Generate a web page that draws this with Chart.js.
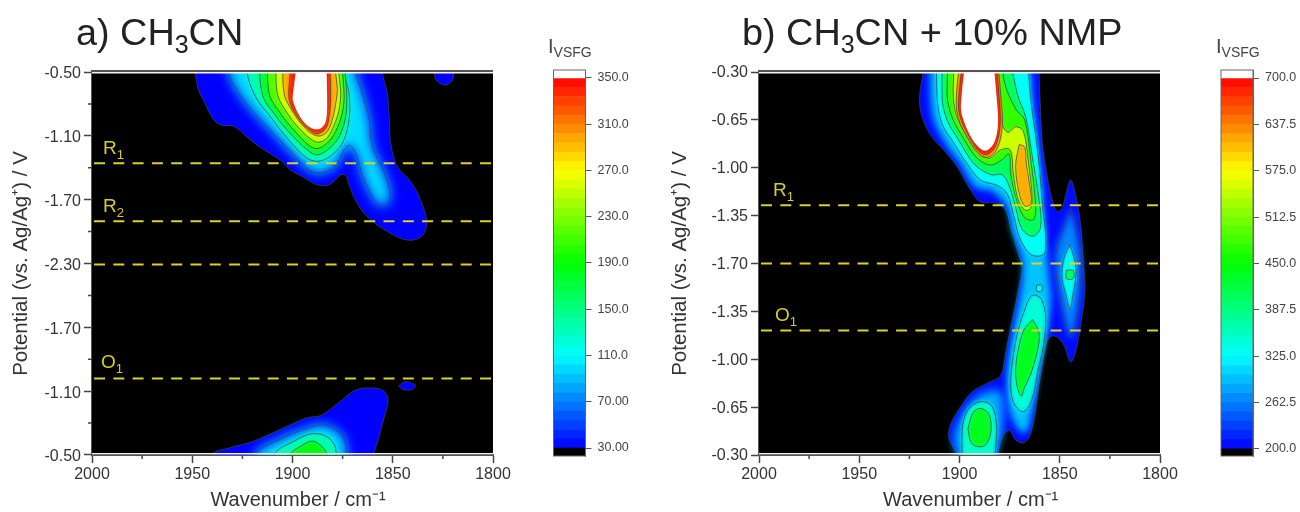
<!DOCTYPE html>
<html>
<head>
<meta charset="utf-8">
<script src="https://cdn.jsdelivr.net/npm/chart.js@4"></script>
<style>
  html, body { margin: 0; padding: 0; background: #fff; }
  body { position: relative; width: 1300px; height: 512px; overflow: hidden; font-family: "Liberation Sans", Arial, sans-serif; }
  canvas { position: absolute; top: 0; }
  .title { position: absolute; top: 10px; font-size: 37.8px; color: #222; white-space: nowrap; line-height: 44px; }
  .title sub { font-size: 25px; line-height: 0; vertical-align: -8px; }
  .tag { position: absolute; font-size: 19px; color: #d4cc2c; line-height: 22px; }
  .tag sub { font-size: 13px; line-height: 0; vertical-align: -5px; }
  .cbname { position: absolute; top: 34px; font-size: 20px; color: #444; line-height: 24px; }
  .cbname sub { font-size: 14px; line-height: 0; vertical-align: -4px; }
</style>
</head>
<body>
<canvas id="panelA" width="530" height="512" style="left:0"></canvas>
<canvas id="barA" width="110" height="512" style="left:530px"></canvas>
<canvas id="panelB" width="530" height="512" style="left:667px"></canvas>
<canvas id="barB" width="110" height="512" style="left:1198px"></canvas>

<div class="title" style="left:76px">a) CH<sub>3</sub>CN</div>
<div class="title" style="left:742px">b) CH<sub>3</sub>CN + 10% NMP</div>
<div class="cbname" style="left:548px">I<sub>VSFG</sub></div>
<div class="cbname" style="left:1216px">I<sub>VSFG</sub></div>
<div class="tag" style="left:103px;top:137px">R<sub>1</sub></div>
<div class="tag" style="left:103px;top:195px">R<sub>2</sub></div>
<div class="tag" style="left:101px;top:351px">O<sub>1</sub></div>
<div class="tag" style="left:773px;top:179px">R<sub>1</sub></div>
<div class="tag" style="left:775px;top:304px">O<sub>1</sub></div>

<script>
// x = wavenumber, y = distance along the potential scan (V from the start of the sweep)
const wnTicks = [2000, 1950, 1900, 1850, 1800];
const wnMinor = [1975, 1925, 1875, 1825];

const potLabelsA = ['-0.50', '-1.10', '-1.70', '-2.30', '-1.70', '-1.10', '-0.50'];
const potMinorA = [0.3, 0.9, 1.5, 2.1, 2.7, 3.3];
const potLabelsB = ['-0.30', '-0.65', '-1.00', '-1.35', '-1.70', '-1.35', '-1.00', '-0.65', '-0.30'];

const markersA = [0.857, 1.404, 1.809, 2.88];
const markersB = [0.975, 1.40, 1.89];

const cbTicksA = [350, 310, 270, 230, 190, 150, 110, 70, 30];
const cbLabelsA = ['350.0', '310.0', '270.0', '230.0', '190.0', '150.0', '110.0', '70.00', '30.00'];
const cbTicksB = [700, 637.5, 575, 512.5, 450, 387.5, 325, 262.5, 200];
const cbLabelsB = ['700.0', '637.5', '575.0', '512.5', '450.0', '387.5', '325.0', '262.5', '200.0'];
const cbStepsA = [30, 38, 46, 54, 62, 70, 78, 86, 94, 102, 110, 118, 126, 134, 142, 150, 158, 166, 174, 182, 190, 198, 206, 214, 222, 230, 238, 246, 254, 262, 270, 278, 286, 294, 302, 310, 318, 326, 334, 342, 350];
const cbStepsB = [200, 212.5, 225, 237.5, 250, 262.5, 275, 287.5, 300, 312.5, 325, 337.5, 350, 362.5, 375, 387.5, 400, 412.5, 425, 437.5, 450, 462.5, 475, 487.5, 500, 512.5, 525, 537.5, 550, 562.5, 575, 587.5, 600, 612.5, 625, 637.5, 650, 662.5, 675, 687.5, 700];

// ----- panel a, contours -----
const aTopEdge = [[1948.5,-.3],[1948.5,0],[1946.8,.17],[1943.5,.30],[1939.3,.45],[1935.2,.50],[1929.3,.51],[1922.7,.61],[1916,.71],[1906,.83],[1901,.92],[1894.3,.99],[1887.7,1.06],[1881.8,1.06],[1876,.97],[1873.5,.97],[1871.8,1.06],[1868.5,1.21],[1862.7,1.36],[1852.7,1.50],[1842.7,1.58],[1836,1.55],[1833,1.43],[1836,1.21],[1841,1.03],[1847.7,.89],[1851,.67],[1851.8,.42],[1852.7,.20],[1855.2,0],[1855.2,-.3]];
const aTop90 = [[1931.8,-.3],[1931.8,0],[1927.7,.17],[1920.2,.36],[1909.3,.58],[1899.3,.78],[1891.8,.92],[1886,.95],[1878.5,.88],[1874.3,.73],[1871.3,.69],[1867.7,.80],[1865.2,.97],[1858.5,1.22],[1854.3,1.26],[1851.3,1.17],[1854.3,.95],[1860.2,.70],[1861.8,.45],[1865.2,.20],[1868.5,0],[1868.5,-.3]];
const aTop130 = [[1922.7,-.3],[1922.7,0],[1918.5,.23],[1911,.42],[1902.7,.62],[1893.5,.80],[1887.7,.84],[1881.8,.80],[1875.2,.67],[1871.8,.45],[1871.8,.20],[1874.3,0],[1874.3,-.3]];
const aTop170 = [[1916.8,-.3],[1915.2,.20],[1908.5,.41],[1901,.58],[1892.7,.73],[1887.7,.78],[1881.8,.72],[1876.8,.61],[1873.5,.42],[1873,.20],[1875.2,-.3]];
const aTop210 = [[1911.8,-.3],[1911.8,.19],[1905.2,.41],[1897.7,.58],[1891.8,.69],[1887.7,.72],[1882.7,.67],[1878.5,.56],[1875.2,.39],[1874.3,.19],[1876.8,-.3]];
const aTop250 = [[1907.7,-.3],[1907.7,.19],[1901.8,.41],[1895.2,.56],[1890.2,.64],[1886.8,.66],[1882.7,.62],[1879.3,.50],[1876.8,.36],[1876,.17],[1879.3,-.3]];
const aTop290 = [[1904.3,-.3],[1904.3,.19],[1899.3,.39],[1893.5,.53],[1889.3,.59],[1886,.60],[1882.7,.56],[1880.2,.45],[1878.5,.30],[1877.7,.15],[1881,-.3]];
const aTop330 = [[1899.3,-.3],[1901.8,.17],[1901,.30],[1896.8,.44],[1891.8,.54],[1887.7,.58],[1883.5,.53],[1881.8,.42],[1881,.23],[1881.8,-.3]];
const aTopPeak = [[1896,-.3],[1899.7,.19],[1899.7,.28],[1895.2,.45],[1890.2,.53],[1886,.53],[1883.5,.47],[1882.7,.30],[1883.5,-.3]];
const aBlobRight = [[1829.5,-.3],[1829,.05],[1826,.11],[1823,.12],[1820,.07],[1819,-.3]];
const aSpot = [[1847,2.95],[1845,2.92],[1842.7,2.91],[1840,2.93],[1838.5,2.95],[1840.5,2.985],[1843,2.99],[1845.5,2.98],[1847,2.95]];
const aLowEdge = [[1940.2,3.9],[1940.2,3.6],[1932.7,3.54],[1919.3,3.47],[1906,3.36],[1892.7,3.25],[1886,3.23],[1877.7,3.12],[1868.5,2.99],[1861,2.97],[1855.2,2.99],[1852.3,3.07],[1854.3,3.25],[1856.8,3.43],[1859.3,3.6],[1859.3,3.9]];
const aLow90 = [[1918.5,3.9],[1918.5,3.6],[1906,3.45],[1892.7,3.35],[1884.3,3.32],[1876.8,3.39],[1873.5,3.50],[1873.5,3.9]];
const aLow130 = [[1909.3,3.9],[1909.3,3.6],[1899.3,3.47],[1890.2,3.40],[1882.7,3.43],[1878.5,3.54],[1878.5,3.9]];
const aLow170 = [[1901,3.9],[1901,3.6],[1895.2,3.51],[1890.2,3.47],[1886,3.51],[1882.7,3.6],[1882.7,3.9]];

// ----- panel b, contours -----
const bEdge = [[1918.2,-.3],[1918.2,0],[1919.8,.16],[1919.2,.30],[1914.5,.46],[1907.8,.57],[1901.2,.69],[1893.7,.88],[1889.5,.95],[1881.2,.96],[1877,1.01],[1874.5,1.13],[1871.2,1.30],[1868.7,1.43],[1870.3,1.57],[1872,1.70],[1874.5,1.87],[1877,2.06],[1879.5,2.22],[1885.3,2.27],[1893.7,2.34],[1900.3,2.47],[1904.5,2.58],[1905.3,2.67],[1902,2.77],[1899.5,2.82],[1899.5,3.1],[1880.7,3.1],[1880.7,2.8],[1879.5,2.71],[1877.5,2.64],[1875,2.62],[1872,2.69],[1867.8,2.71],[1865,2.66],[1862.8,2.53],[1859.5,2.21],[1856.2,1.96],[1853.7,1.93],[1851.2,1.94],[1847.8,2.0],[1844.5,2.12],[1842,2.04],[1839.5,1.84],[1837.5,1.60],[1838.3,1.38],[1839.5,1.13],[1841.5,.94],[1844.5,.79],[1846.7,.88],[1848.7,.99],[1851.2,1.02],[1853.7,.94],[1856.2,.77],[1858.7,.52],[1859.8,.21],[1860.3,0],[1860.3,-.3]];
const bRidge280 = [[1914.5,-.3],[1914.5,.16],[1912.8,.35],[1907,.52],[1899.5,.67],[1892,.84],[1883.7,.87],[1876.2,.99],[1873.7,1.16],[1868.7,1.38],[1868.7,1.52],[1870.3,1.67],[1872.8,1.87],[1875.3,2.09],[1876.2,2.23],[1875.3,2.45],[1872,2.58],[1867.8,2.64],[1865.3,2.58],[1862,2.31],[1858.7,2.04],[1856.2,1.87],[1854.5,1.67],[1855.3,1.52],[1856.2,1.38],[1857.8,1.13],[1858.7,.89],[1861.2,.52],[1863.7,.18],[1865.3,-.3]];
const bFoot280 = [[1901.2,3.1],[1901.2,2.80],[1902.8,2.67],[1899.5,2.53],[1892.8,2.39],[1884.5,2.33],[1879.5,2.34],[1878.2,2.50],[1879.5,2.67],[1882,2.80],[1882,3.1]];
const bSide280 = [[1844.5,1.0],[1841.5,1.18],[1839.5,1.38],[1839.8,1.57],[1842,1.82],[1844.5,1.94],[1847,1.84],[1849.8,1.65],[1852,1.45],[1851.5,1.28],[1847.8,1.13],[1844.5,1.0]];
const bTop325 = [[1911.2,-.3],[1911.2,.18],[1908.7,.38],[1902.8,.52],[1896.2,.67],[1889.5,.79],[1881.2,.83],[1876.2,.89],[1872.8,1.06],[1869.5,1.23],[1863.7,1.34],[1857.3,1.32],[1858.7,.96],[1861.2,.55],[1864.2,.23],[1867,-.3]];
const bMid325 = [[1862,1.63],[1859.2,1.66],[1857,1.79],[1858,1.99],[1860.8,2.18],[1863.2,2.36],[1866.5,2.47],[1869.5,2.48],[1873.2,2.41],[1874.5,2.28],[1873.3,2.09],[1870.8,1.89],[1867.5,1.74],[1864.5,1.64],[1862,1.63]];
const bFoot325 = [[1897.5,3.1],[1898.7,2.62],[1895.8,2.47],[1889.5,2.41],[1884,2.44],[1881.5,2.58],[1881.8,2.71],[1884,3.1]];
const bSide325 = [[1845,1.26],[1842.2,1.40],[1842,1.50],[1843.7,1.65],[1845,1.74],[1846.5,1.65],[1848.8,1.51],[1848.2,1.38],[1845,1.26]];
const bSpeck325 = [[1861.5,1.56],[1859,1.56],[1859,1.60],[1861.5,1.60],[1861.5,1.56]];
const bTop400 = [[1907.8,-.3],[1908.7,.18],[1906.2,.35],[1900.3,.50],[1892.8,.67],[1884.5,.75],[1878.7,.75],[1875.3,.83],[1872,.99],[1868.7,1.15],[1863.2,1.20],[1859.5,1.13],[1860.3,.94],[1863.7,.62],[1867,.33],[1871.2,.16],[1877.5,-.3]];
const bMid420 = [[1863.5,1.81],[1860.3,1.91],[1861.5,2.06],[1864.8,2.22],[1867.7,2.31],[1869.2,2.37],[1871.2,2.30],[1872,2.18],[1870.8,2.04],[1868,1.89],[1863.5,1.81]];
const bFoot420 = [[1895.8,2.61],[1893.2,2.49],[1889.5,2.46],[1885.4,2.50],[1884.3,2.62],[1886.6,2.72],[1890.3,2.74],[1894.1,2.71],[1895.8,2.61]];
const bSpeck400 = [[1846.7,1.45],[1843.3,1.45],[1843.3,1.51],[1846.7,1.51],[1846.7,1.45]];
const bTop470 = [[1904.5,-.3],[1906.2,.16],[1903.7,.33],[1897.8,.49],[1891.2,.63],[1884.5,.68],[1878.7,.64],[1875.3,.60],[1874.5,.74],[1872,.91],[1867.8,1.06],[1863.2,1.08],[1862,.99],[1864.5,.64],[1867.5,.35],[1872,.27],[1877.8,.06],[1879.5,-.3]];
const bTop540 = [[1901.2,-.3],[1903.2,.13],[1901.5,.32],[1896.2,.47],[1889.5,.60],[1884.8,.63],[1879.5,.57],[1874.8,.57],[1873.2,.74],[1871.2,.91],[1868.2,1.0],[1865.3,1.01],[1863.7,.94],[1865.8,.64],[1868.2,.43],[1872,.40],[1875.8,.44],[1878.7,.38],[1879.8,.21],[1881.5,-.3]];
const bRidge615 = [[1870.2,.53],[1867.5,.55],[1866.8,.66],[1864.8,.85],[1864.3,.96],[1867.3,.98],[1870,.90],[1872,.69],[1870.2,.53]];
const bTop625 = [[1897.8,-.3],[1901.5,.16],[1900.7,.33],[1895.3,.50],[1889.5,.61],[1885.3,.62],[1881.2,.56],[1878.7,.40],[1879.2,.21],[1882.3,-.3]];
const bTop680 = [[1896.5,-.3],[1900.3,.18],[1899.8,.32],[1894.5,.49],[1889.5,.59],[1885.8,.60],[1882,.54],[1879.8,.39],[1880.3,.18],[1883.3,-.3]];
const bTopPeak = [[1895.3,-.3],[1899.2,.21],[1898.7,.32],[1893.7,.49],[1888.7,.57],[1885.8,.57],[1882.5,.51],[1880.8,.38],[1881.5,.18],[1884.5,-.3]];

// blue - cyan - green - yellow - red, same map as the colour bars
function colorFor(v, lo, hi) {
  if (v > hi) return '#ffffff';
  const f = Math.max(0, Math.min(1, (v - lo) / (hi - lo))) * 4;
  let r = 0, g = 0, b = 0;
  if (f < 1) { g = f; b = 1; }
  else if (f < 2) { g = 1; b = 2 - f; }
  else if (f < 3) { r = f - 2; g = 1; }
  else { r = 1; g = 4 - f; }
  return 'rgb(' + Math.round(r * 255) + ',' + Math.round(g * 255) + ',' + Math.round(b * 255) + ')';
}

const LINE = 'rgba(62,66,78,0.75)';
const YELLOW = '#d9d22c';

function contourSets(bands, lo, hi) {
  // later bands go on top, chart.js draws low "order" last
  return bands.map((b, i) => ({
    data: b.pts,
    showLine: true,
    tension: 0.35,
    pointRadius: 0,
    order: -i,
    fillColor: colorFor(b.level, lo, hi),
    blur: b.blur,
    borderWidth: b.line === false ? 0 : 1,
    borderColor: LINE
  }));
}

function markerSets(values) {
  return values.map(v => ({
    data: [[1999, v], [1800, v]],
    showLine: true,
    pointRadius: 0,
    order: -1000,
    borderColor: YELLOW,
    borderWidth: 2,
    borderDash: [11, 8.3]
  }));
}

// fills every contour polygon, soft edge makes the bands run into each other
const contourFill = {
  id: 'contourFill',
  beforeDatasetsDraw(chart) {
    const { ctx, chartArea: a } = chart;
    ctx.save();
    ctx.fillStyle = '#000';
    ctx.fillRect(a.left, a.top, a.width, a.height);
    ctx.restore();
  },
  beforeDatasetDraw(chart, args) {
    const ds = chart.data.datasets[args.index];
    if (!ds.fillColor) return;
    const { ctx, chartArea: a } = chart;
    ctx.save();
    ctx.beginPath();
    ctx.rect(a.left, a.top, a.width, a.height);
    ctx.clip();
    ctx.filter = 'blur(' + ds.blur + 'px)';
    ctx.fillStyle = ds.fillColor;
    ctx.beginPath();
    args.meta.dataset.path(ctx);
    ctx.closePath();
    ctx.fill();
    ctx.restore();
  }
};

// top rule, pale rows against the frame, and the short minor ticks
const frame = {
  id: 'frame',
  afterDatasetsDraw(chart) {
    const { ctx, chartArea: a } = chart;
    ctx.save();
    ctx.fillStyle = '#f4f4f4';
    ctx.fillRect(a.left, a.top, a.width, 1.5);
    ctx.fillRect(a.left, a.bottom - 2, a.width, 1.5);
    ctx.fillStyle = '#555';
    ctx.fillRect(a.left - 1, a.top - 2, a.width + 1, 2);
    ctx.restore();
  },
  afterDraw(chart, args, opts) {
    const { ctx, chartArea: a, scales } = chart;
    ctx.save();
    ctx.strokeStyle = '#444';
    ctx.lineWidth = 1.5;
    ctx.beginPath();
    wnMinor.forEach(v => {
      const x = scales.x.getPixelForValue(v);
      ctx.moveTo(x, a.bottom);
      ctx.lineTo(x, a.bottom + 4);
    });
    (opts.minorY || []).forEach(v => {
      const y = scales.y.getPixelForValue(v);
      ctx.moveTo(a.left, y);
      ctx.lineTo(a.left - 4, y);
    });
    ctx.stroke();
    ctx.restore();
  }
};

function panel(id, bands, lo, hi, markers, labels, scanEnd, minorY, titleGap, labelDrop, xTitle) {
  const step = scanEnd / (labels.length - 1);
  new Chart(document.getElementById(id), {
    type: 'scatter',
    data: { datasets: contourSets(bands, lo, hi).concat(markerSets(markers)) },
    options: {
      responsive: false,
      animation: false,
      devicePixelRatio: 1,
      layout: { padding: { top: 72, right: 37 } },
      plugins: { legend: { display: false }, tooltip: { enabled: false }, frame: { minorY: minorY } },
      scales: {
        x: {
          type: 'linear', reverse: true, min: 1800, max: 2000,
          afterFit: s => { s.height = 57; },
          afterBuildTicks: s => { s.ticks = wnTicks.map(v => ({ value: v })); },
          grid: { drawOnChartArea: false, tickLength: 8, tickColor: '#444', tickWidth: 1.5 },
          border: { color: '#555', width: 2 },
          ticks: { color: '#333', font: { size: 16, family: 'Liberation Sans' }, padding: 2, maxRotation: 0, autoSkip: false, callback: (v, i) => String(wnTicks[i]) },
          title: { display: true, text: xTitle, color: '#333', font: { size: 20, family: 'Liberation Sans' }, padding: { top: 1, bottom: 0 } }
        },
        y: {
          type: 'linear', reverse: true, min: 0, max: scanEnd,
          afterFit: s => { s.width = 92; },
          afterBuildTicks: s => { s.ticks = labels.map((l, i) => ({ value: i * step })); },
          grid: { drawOnChartArea: false, tickLength: 8, tickColor: '#444', tickWidth: 1.5 },
          border: { color: '#555', width: 2 },
          ticks: { color: '#333', font: { size: 16, family: 'Liberation Sans' }, padding: 3, labelOffset: labelDrop, autoSkip: false, callback: (v, i) => labels[i] },
          title: { display: true, text: 'Potential (vs. Ag/Ag\u207A) / V', color: '#333', font: { size: 20.5, family: 'Liberation Sans' }, padding: { top: titleGap, bottom: 0 } }
        }
      }
    },
    plugins: [contourFill, frame]
  });
}

function colorBar(id, steps, ticks, labels, lo, hi, axisMin, axisMax, left) {
  const sets = [
    { data: [[axisMin, lo]], backgroundColor: '#000' },
    { data: [[hi, axisMax]], backgroundColor: '#fff' }
  ];
  steps.slice(0, -1).forEach((v, i) => {
    sets.push({ data: [[v, steps[i + 1]]], backgroundColor: colorFor(v + (steps[i + 1] - v) / 2, lo, hi) });
  });
  new Chart(document.getElementById(id), {
    type: 'bar',
    data: { labels: ['I'], datasets: sets },
    options: {
      responsive: false,
      animation: false,
      devicePixelRatio: 1,
      layout: { padding: { top: 70, bottom: 56, left: left } },
      datasets: { bar: { grouped: false, categoryPercentage: 1, barPercentage: 1 } },
      plugins: { legend: { display: false }, tooltip: { enabled: false } },
      scales: {
        x: { display: false },
        y: {
          position: 'right', min: axisMin, max: axisMax,
          afterFit: s => { s.width = 110 - left - 32; },
          afterBuildTicks: s => { s.ticks = ticks.map(v => ({ value: v })); },
          grid: { drawOnChartArea: false, tickLength: 6, tickColor: '#555', tickWidth: 1 },
          border: { color: '#666', width: 1 },
          ticks: { color: '#444', font: { size: 12.5, family: 'Liberation Sans' }, padding: 6, autoSkip: false, callback: (v, i) => labels[i] }
        }
      }
    },
    plugins: [{
      id: 'barFrame',
      afterDraw(chart) {
        const { ctx, chartArea: a } = chart;
        ctx.save();
        ctx.strokeStyle = '#666';
        ctx.strokeRect(a.left, a.top, a.width, a.height);
        ctx.restore();
      }
    }]
  });
}

const bandsA = [
  { pts: aTopEdge, level: 28, blur: 0.6 },
  { pts: aLowEdge, level: 28, blur: 0.6 },
  { pts: aBlobRight, level: 28, blur: 0.6 },
  { pts: aSpot, level: 28, blur: 0.6 },
  { pts: aTop90, level: 100, blur: 6 },
  { pts: aLow90, level: 100, blur: 6 },
  { pts: aTop130, level: 135, blur: 2.5 },
  { pts: aLow130, level: 135, blur: 2.5 },
  { pts: aTop170, level: 175, blur: 1.5 },
  { pts: aLow170, level: 185, blur: 1.5 },
  { pts: aTop210, level: 215, blur: 1.2 },
  { pts: aTop250, level: 255, blur: 1.2 },
  { pts: aTop290, level: 295, blur: 1 },
  { pts: aTop330, level: 340, blur: 0.8 },
  { pts: aTopPeak, level: 360, blur: 0.6, line: false }
];

const bandsB = [
  { pts: bEdge, level: 205, blur: 0.6 },
  { pts: bRidge280, level: 295, blur: 3.5, line: false },
  { pts: bFoot280, level: 285, blur: 5, line: false },
  { pts: bSide280, level: 265, blur: 3.5 },
  { pts: bTop325, level: 330, blur: 1.5 },
  { pts: bMid325, level: 345, blur: 2.5 },
  { pts: bFoot325, level: 350, blur: 2 },
  { pts: bSide325, level: 335, blur: 1.5 },
  { pts: bSpeck325, level: 340, blur: 0.5 },
  { pts: bTop400, level: 405, blur: 1.5 },
  { pts: bMid420, level: 435, blur: 1.5 },
  { pts: bFoot420, level: 435, blur: 1.5 },
  { pts: bSpeck400, level: 400, blur: 0.5 },
  { pts: bTop470, level: 475, blur: 1.2 },
  { pts: bTop540, level: 550, blur: 1.2 },
  { pts: bRidge615, level: 615, blur: 1.2 },
  { pts: bTop625, level: 625, blur: 0.8 },
  { pts: bTop680, level: 690, blur: 0.8 },
  { pts: bTopPeak, level: 720, blur: 0.6, line: false }
];

panel('panelA', bandsA, 30, 350, markersA, potLabelsA, 3.6, potMinorA, 9, 2, '\u00A0\u00A0Wavenumber / cm\u207B\u00B9');
panel('panelB', bandsB, 200, 700, markersB, potLabelsB, 2.8, [], 1, 1, '\u00A0\u00A0\u00A0\u00A0Wavenumber / cm\u207B\u00B9');
colorBar('barA', cbStepsA, cbTicksA, cbLabelsA, 30, 350, 23.1, 356.9, 23.5);
colorBar('barB', cbStepsB, cbTicksB, cbLabelsB, 200, 700, 190.5, 710.8, 23);
</script>
</body>
</html>
